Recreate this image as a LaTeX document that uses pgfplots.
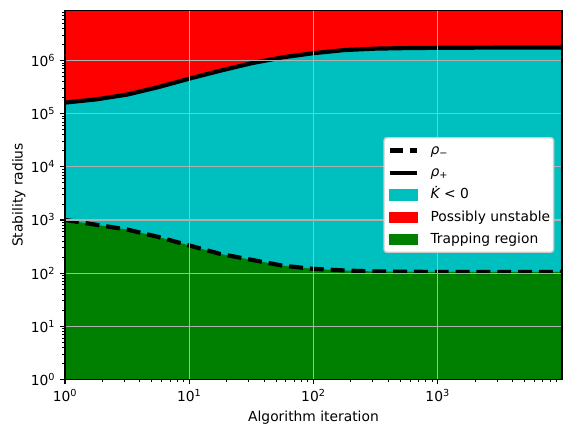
\documentclass[border=0pt]{standalone}
\usepackage{fontspec}
\setmainfont{DejaVu Sans}
\usepackage{pgfplots}
\usepackage{pgfplotstable}
\pgfplotsset{compat=1.18}

\definecolor{mplred}{RGB}{255,0,0}
\definecolor{mplcyan}{RGB}{0,191,191}
\definecolor{mplgreen}{RGB}{0,128,0}
\definecolor{gridgray}{RGB}{176,176,176}
\definecolor{legendedge}{RGB}{204,204,204}

% stability radii along the iterations
\pgfplotstableread{
k      rhominus rhoplus
1      1000     1.62e5
1.778  813      1.86e5
3.162  661      2.29e5
5.623  479      3.16e5
10     331      4.57e5
17.78  229      6.46e5
31.62  178      8.91e5
56.23  138      1.15e6
100    120      1.38e6
177.8  112      1.58e6
316.2  107      1.68e6
562.3  106      1.72e6
1000   105      1.74e6
1778   105      1.75e6
3162   105      1.76e6
5623   105      1.76e6
9999   105      1.76e6
}\radii

\pgfplotsset{
  linelegend/.style={legend image code/.code={\draw[sharp corners,##1] (0bp,0bp) -- (20bp,0bp);}},
  patchlegend/.style={legend image code/.code={\fill[sharp corners,##1] (0bp,-3.5bp) rectangle (20bp,3.5bp);}},
}

\begin{document}
\begin{tikzpicture}
\begin{axis}[
  scale only axis,
  width=357.8bp, height=265.4bp,
  at={(0,0)}, anchor=south west,
  xmode=log, ymode=log,
  xmin=1, xmax=9999,
  ymin=1, ymax=8.7e6,
  axis background/.style={fill=mplred},
  axis on top,
  axis line style={line width=0.8bp},
  grid=major,
  major grid style={color=gridgray, line width=0.8bp},
  tick align=outside,
  xtick pos=bottom, ytick pos=left,
  major tick length=3.5bp, minor tick length=2bp,
  every tick/.style={black, line width=0.8bp},
  minor tick style={black, line width=0.6bp},
  xtick={1,10,100,1000},
  xticklabels={10\textsuperscript{0},10\textsuperscript{1},10\textsuperscript{2},10\textsuperscript{3}},
  minor xtick={2,3,4,5,6,7,8,9,20,30,40,50,60,70,80,90,200,300,400,500,600,700,800,900,2000,3000,4000,5000,6000,7000,8000,9000},
  ytick={1,10,100,1000,1e4,1e5,1e6},
  yticklabels={10\textsuperscript{0},10\textsuperscript{1},10\textsuperscript{2},10\textsuperscript{3},10\textsuperscript{4},10\textsuperscript{5},10\textsuperscript{6}},
  minor ytick={2,3,4,5,6,7,8,9,20,30,40,50,60,70,80,90,200,300,400,500,600,700,800,900,
    2e3,3e3,4e3,5e3,6e3,7e3,8e3,9e3,2e4,3e4,4e4,5e4,6e4,7e4,8e4,9e4,
    2e5,3e5,4e5,5e5,6e5,7e5,8e5,9e5,2e6,3e6,4e6,5e6,6e6,7e6,8e6},
  tick label style={font=\fontsize{10}{12}\selectfont},
  xlabel={Algorithm iteration},
  ylabel={Stability radius},
  ylabel style={yshift=-3bp},
  label style={font=\fontsize{10}{12}\selectfont},
  legend cell align=left,
  legend style={
    at={(1,0.5)}, anchor=east, xshift=-5.5bp,
    draw=legendedge, fill=white,
    rounded corners=2bp, line width=1bp,
    font=\fontsize{10}{12}\selectfont,
    inner xsep=2.5bp, inner ysep=3.5bp,
    row sep=4.5bp, column sep=8bp,
    nodes={inner sep=0pt, text height=8.5bp, text depth=3bp},
  },
]
% region under rho_+ (cyan) and under rho_- (green)
\addplot[fill=mplcyan, draw=none, forget plot] table[x=k, y=rhoplus]{\radii} \closedcycle;
\addplot[fill=mplgreen, draw=none, forget plot] table[x=k, y=rhominus]{\radii} \closedcycle;
% boundary curves
\addplot[black, line width=3bp, dash pattern=on 10bp off 5bp, forget plot] table[x=k, y=rhominus]{\radii};
\addplot[black, line width=3bp, forget plot] table[x=k, y=rhoplus]{\radii};

\addlegendimage{linelegend, black, line width=3bp, dash pattern=on 10bp off 5bp}
\addlegendentry{\textit{ρ}\textsubscript{−}}
\addlegendimage{linelegend, black, line width=3bp}
\addlegendentry{\textit{ρ}\textsubscript{+}}
\addlegendimage{patchlegend, mplcyan}
\addlegendentry{\textit{\.{K}} < 0}
\addlegendimage{patchlegend, mplred}
\addlegendentry{Possibly unstable}
\addlegendimage{patchlegend, mplgreen}
\addlegendentry{Trapping region}
\end{axis}
\pgfresetboundingbox
\path[use as bounding box] (-46.8bp,-41.5bp) rectangle (363.6bp,273.1bp);
\end{tikzpicture}
\end{document}
